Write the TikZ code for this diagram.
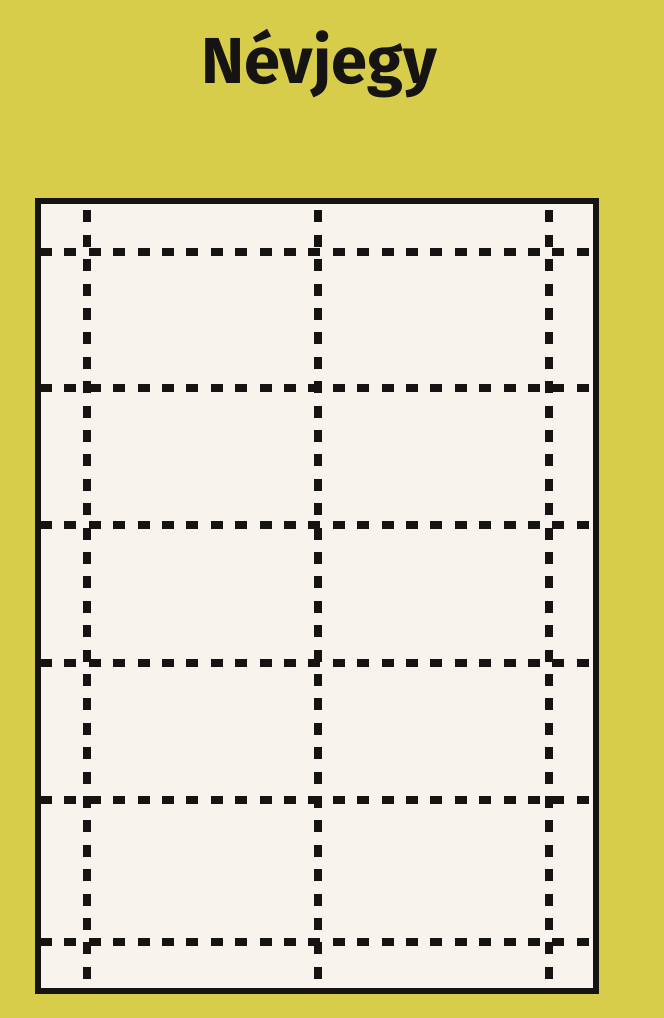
\documentclass[tikz,border=0pt]{standalone}
\usepackage{fontspec}
\setmainfont{Fira Sans}
\definecolor{bgyellow}{RGB}{216,205,74}
\definecolor{paper}{RGB}{248,244,237}
\definecolor{ink}{RGB}{22,20,18}
\tikzset{
  cutline/.style={ink, line width=8.5pt, dash pattern=on 12pt off 12.4pt},
  sheet/.style={draw=ink, fill=paper, line width=6pt},
  titletext/.style={text=ink, font=\fontsize{65}{70}\selectfont\bfseries, inner sep=0pt}
}
\begin{document}
\begin{tikzpicture}[x=1pt,y=-1pt]
\fill[bgyellow] (0,0) rectangle (664,1018);
\useasboundingbox (0,0) rectangle (664,1018);
\node[titletext, anchor=base] (title) at (319,83) {Névjegy};
\coordinate (tl) at (38,201);
\coordinate (br) at (596,991);
\draw[sheet] (tl) rectangle (br);
% vertical cut lines
\foreach \x/\n in {87/a,318/b,549/c}{
  \coordinate (v\n top) at (\x,201);
  \coordinate (v\n bot) at (\x,991);
  \draw[cutline, dash phase=15pt] (v\n top) -- (v\n bot);
}
% horizontal cut lines
\foreach \y/\n in {252/a,388/b,525/c,663/d,800/e,942/f}{
  \coordinate (h\n l) at (38,\y);
  \coordinate (h\n r) at (596,\y);
  \draw[cutline, dash phase=22.4pt] (h\n l) -- (h\n r);
}
\draw[draw=ink, line width=6pt] (tl) rectangle (br);
\end{tikzpicture}
\end{document}
